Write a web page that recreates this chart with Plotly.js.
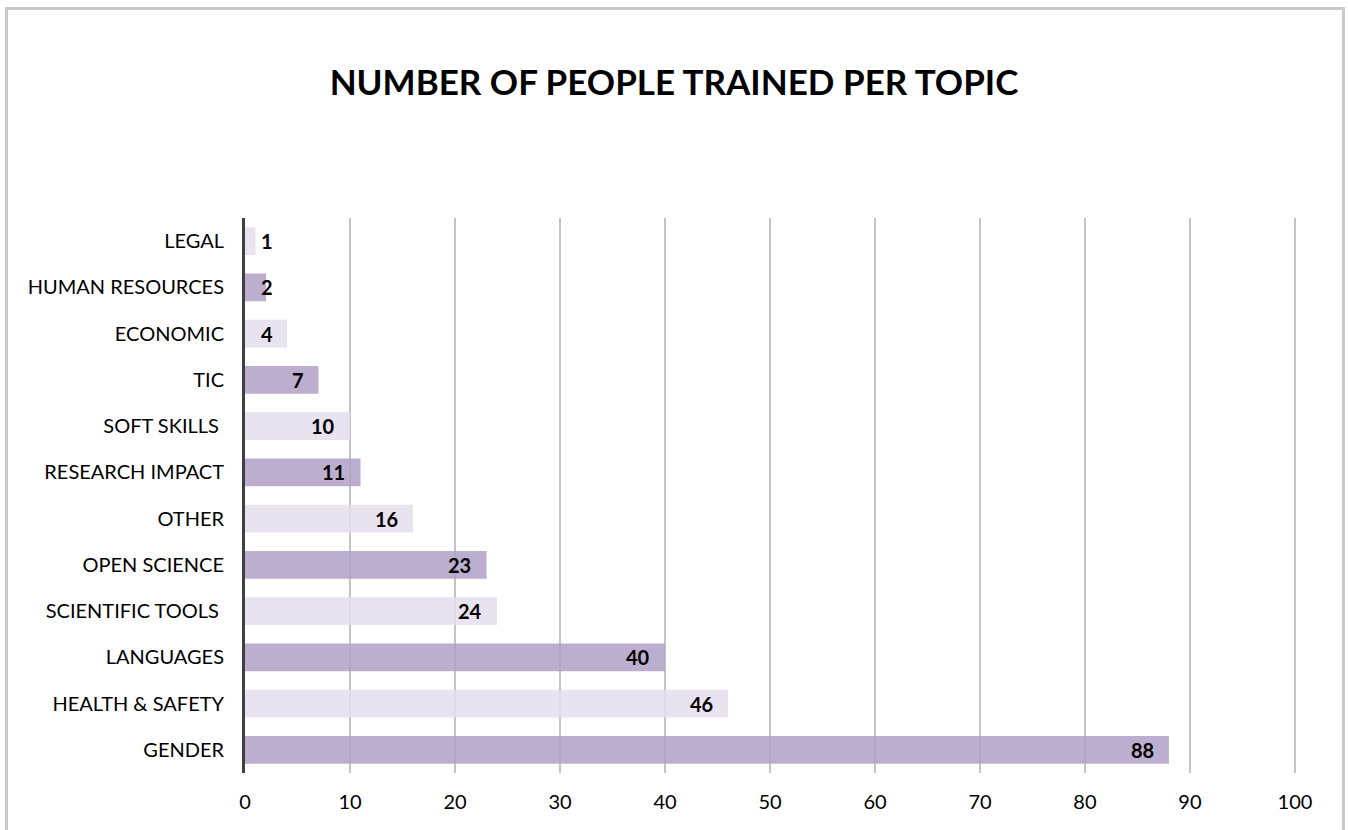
<!DOCTYPE html>
<html>
<head>
<meta charset="utf-8">
<script src="https://cdn.plot.ly/plotly-3.0.1.min.js"></script>
<style>
  html, body { margin: 0; padding: 0; background: #ffffff; }
  #wrap { position: relative; width: 1348px; height: 830px; overflow: hidden; }
  #frame { position: absolute; left: 5px; top: 7px; width: 1340px; height: 900px; border: 3px solid #c8c8c8; box-sizing: border-box; pointer-events: none; }
  #chart { position: absolute; left: 0; top: 0; width: 1348px; height: 830px; }
</style>
</head>
<body>
<div id="wrap">
  <div id="chart"></div>
  <div id="frame"></div>
</div>
<script>
const topics = ["LEGAL", "HUMAN RESOURCES", "ECONOMIC", "TIC", "SOFT SKILLS ", "RESEARCH IMPACT", "OTHER", "OPEN SCIENCE", "SCIENTIFIC TOOLS ", "LANGUAGES", "HEALTH & SAFETY", "GENDER"];
const trained = [1, 2, 4, 7, 10, 11, 16, 23, 24, 40, 46, 88];
const xTicks = [0, 10, 20, 30, 40, 50, 60, 70, 80, 90, 100];

const lightColor = "rgba(228,222,236,0.85)";
const darkColor = "rgba(176,160,198,0.85)";
const barColors = topics.map((t, i) => (i % 2 === 0 ? lightColor : darkColor));

const fontFam = "Lato, 'Open Sans', sans-serif";

const trace = {
  type: "bar",
  orientation: "h",
  x: trained,
  y: topics,
  width: 0.6,
  marker: { color: barColors, line: { width: 0 } },
  hoverinfo: "x+y"
};

const labelMin = 4.1;
const annotations = trained.map((v, i) => ({
  x: Math.max(v, labelMin),
  y: topics[i],
  xref: "x",
  yref: "y",
  text: "<b>" + v + "</b>",
  showarrow: false,
  xanchor: "right",
  yanchor: "middle",
  xshift: -13,
  font: { family: fontFam, size: 20, color: "#000000" }
}));

const layout = {
  width: 1348,
  height: 830,
  margin: { l: 245, r: 52, t: 218, b: 57 },
  paper_bgcolor: "rgba(0,0,0,0)",
  plot_bgcolor: "rgba(0,0,0,0)",
  showlegend: false,
  title: {
    text: "<b>NUMBER OF PEOPLE TRAINED PER TOPIC</b>",
    xref: "container",
    yref: "container",
    x: 0.5,
    y: 1 - 83 / 830,
    xanchor: "center",
    yanchor: "middle",
    font: { family: fontFam, size: 35, color: "#000000" }
  },
  xaxis: {
    range: [0, 100.1],
    tickvals: xTicks,
    ticktext: xTicks.map(String),
    showgrid: true,
    gridcolor: "#c4c4c4",
    gridwidth: 2,
    zeroline: false,
    showline: false,
    ticks: "outside",
    ticklen: 11,
    tickcolor: "rgba(0,0,0,0)",
    tickfont: { family: fontFam, size: 20, color: "#000000" },
    fixedrange: true
  },
  yaxis: {
    type: "category",
    categoryorder: "array",
    categoryarray: topics,
    autorange: "reversed",
    showgrid: false,
    zeroline: false,
    showline: true,
    linecolor: "#404040",
    linewidth: 3,
    ticks: "outside",
    ticklen: 14,
    tickcolor: "rgba(0,0,0,0)",
    tickfont: { family: fontFam, size: 20, color: "#000000" },
    fixedrange: true
  },
  annotations: annotations,
  bargap: 0.4
};

Plotly.newPlot("chart", [trace], layout, { displayModeBar: false, staticPlot: true });
</script>
</body>
</html>
